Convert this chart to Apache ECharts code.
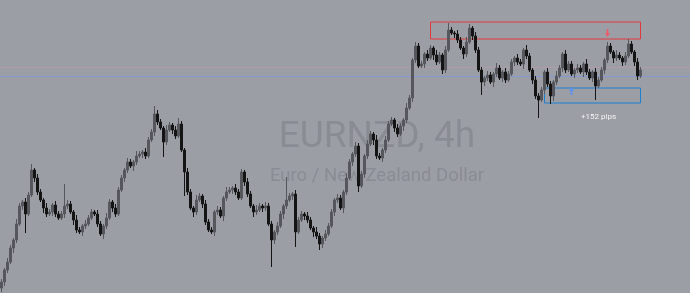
<!DOCTYPE html>
<html>
<head>
<meta charset="utf-8">
<script src="https://cdn.jsdelivr.net/npm/echarts@6/dist/echarts.min.js"></script>
<style>
html,body{margin:0;padding:0;background:#9c9ea6;}
#chart{width:690px;height:293px;}
</style>
</head>
<body>
<div id="chart"></div>
<script>
// EURNZD 4h candles, price levels in chart points
const opens = [
12,18,30,38,52,60,76,94,98,86,
105,130,122,108,100,92,86,88,95,86,
82,86,94,96,88,80,70,68,74,76,
82,88,86,76,66,74,82,98,92,86,
110,122,130,138,134,138,144,146,148,144,
160,168,186,178,172,158,170,175,170,164,
176,150,128,108,92,88,100,104,96,78,
70,68,88,90,84,102,108,110,112,108,
102,128,118,106,94,88,90,94,92,94,
76,60,68,74,86,94,100,104,106,68,
80,86,84,80,72,68,64,56,62,66,
74,88,100,102,92,108,122,138,146,154,
114,126,144,156,166,160,144,142,150,160,
176,180,172,166,174,180,192,202,240,254,
234,236,246,242,252,245,238,245,230,250,
270,267,266,260,252,246,258,272,264,250,
230,218,222,225,218,226,232,222,228,220,
226,238,242,238,236,250,244,230,220,204,
200,210,228,216,204,218,224,232,246,230,
236,226,230,232,228,236,228,222,228,214,
220,230,240,254,248,242,245,242,238,244,
256,248,238,224];
const closes = [
18,30,38,52,60,76,94,98,86,105,
130,122,108,100,92,86,88,95,86,82,
86,94,96,88,80,70,68,74,76,82,
88,86,76,66,74,82,98,92,86,110,
122,130,138,134,138,144,146,148,144,160,
168,186,178,172,158,170,175,170,164,176,
150,128,108,92,88,100,104,96,78,70,
68,88,90,84,102,108,110,112,108,102,
128,118,106,94,88,90,94,92,94,76,
60,68,74,86,94,100,104,106,68,80,
86,84,80,72,68,64,56,62,66,74,
88,100,102,92,108,122,138,146,154,114,
126,144,156,166,160,144,142,150,160,176,
180,172,166,174,180,192,202,240,254,234,
236,246,242,252,245,238,245,230,250,270,
267,266,260,252,246,258,272,264,250,230,
218,222,225,218,226,232,222,228,220,226,
238,242,238,236,250,244,230,220,204,200,
210,228,216,204,218,224,232,246,230,236,
226,230,232,228,236,228,222,228,214,220,
230,240,254,248,242,245,242,238,244,256,
248,238,224,230];
const highs = [
21,32,42,55,62,81,97,100,102,108,
136,132,126,111,102,97,91,97,99,89,
89,116,100,99,90,85,73,76,80,85,
91,90,90,79,76,87,101,100,96,113,
125,132,142,141,140,149,149,150,152,163,
171,194,190,181,174,175,178,177,174,182,
179,152,132,111,94,105,107,106,100,81,
73,90,94,93,104,113,113,114,116,111,
131,130,122,109,96,95,97,96,98,97,
79,70,78,89,96,123,107,108,110,83,
89,88,88,83,74,73,67,64,70,77,
91,102,106,105,110,127,141,148,158,157,
129,146,160,169,168,165,147,152,164,179,
183,182,176,177,182,197,205,242,258,257,
239,248,250,255,254,250,248,247,254,277,
273,269,270,263,254,263,276,274,268,253,
233,224,229,228,228,237,235,230,232,229,
241,244,246,241,252,255,247,232,224,207,
213,230,232,219,220,229,235,248,250,239,
239,232,236,235,238,241,231,230,232,223,
233,242,258,257,250,250,248,244,248,261,
259,250,242,233];
const lows = [
8,14,27,36,47,57,74,90,67,84,
103,118,105,98,87,83,84,84,83,80,
80,82,91,86,75,67,66,64,71,74,
80,84,73,64,61,71,80,88,83,84,
108,118,127,132,129,135,142,142,141,142,
158,164,175,170,143,155,168,166,161,162,
148,104,105,90,83,85,98,92,75,68,
66,64,85,82,79,99,106,106,105,100,
100,114,103,92,83,85,88,88,89,74,
33,56,65,72,81,91,98,100,53,66,
78,80,77,70,63,61,50,52,59,64,
72,84,97,90,87,105,120,134,143,108,
112,122,141,154,155,141,140,138,147,158,
174,168,163,164,169,177,190,198,237,232,
232,232,239,240,240,235,236,226,227,248,
265,262,257,250,241,243,256,260,247,228,
205,214,219,216,213,223,220,218,217,218,
224,234,235,234,231,241,228,216,201,182,
198,206,213,196,199,215,222,228,227,228,
224,222,227,226,223,225,220,218,200,212,
218,226,237,246,237,239,240,234,235,242,
246,234,220,222];
// horizontal levels
const priceLine = 224;
const prevLine = 233;
// zones [startIndex, endIndex, top, bottom]
const resistanceZone = [143, 213, 278, 261];
const supportZone = [181, 213, 212, 197];
const sellSignal = [202, 267];
const buySignal = [190, 209];
const pipsLabel = '+152 pips';
const pipsPos = [199, 183];
const titleText = 'EURNZD, 4h';
const subtitleText = 'Euro / New Zealand Dollar';
const totalSlots = 230; // candle slots incl. right margin

const categories = [];
for (let i = 0; i < totalSlots; i++) categories.push('c' + i);
const ohlc = opens.map((o, i) => [o, closes[i], lows[i], highs[i]]);

const arrowPath = 'path://M3,0 L6,4 L4,4 L4,8 L2,8 L2,4 L0,4 Z';

const chart = echarts.init(document.getElementById('chart'));
chart.setOption({
  animation: false,
  backgroundColor: '#9c9ea6',
  grid: {left: 0, right: 0, top: 0, bottom: 0},
  xAxis: {type: 'category', data: categories, boundaryGap: true, show: false},
  yAxis: {type: 'value', min: 7, max: 300, show: false, splitLine: {show: false}},
  graphic: [
    {type: 'text', x: 377, y: 138, z: 0, silent: true,
     style: {text: titleText, font: '37px Roboto', fill: '#8a8c94', textAlign: 'center', textVerticalAlign: 'middle'}},
    {type: 'text', x: 377, y: 176, z: 0, silent: true,
     style: {text: subtitleText, font: '18.5px Roboto', fill: '#8a8c94', textAlign: 'center', textVerticalAlign: 'middle'}}
  ],
  series: [{
    type: 'candlestick',
    data: ohlc,
    barWidth: 1.6,
    z: 5,
    itemStyle: {color: '#55575c', color0: '#141414', borderColor: '#55575c', borderColor0: '#141414', borderWidth: 1},
    markLine: {
      silent: true, symbol: 'none', label: {show: false},
      data: [
        {yAxis: prevLine, lineStyle: {color: '#b59aa6', width: 1, type: 'solid', opacity: 0.8}},
        {yAxis: priceLine, lineStyle: {color: '#8598d2', width: 1, type: 'solid', opacity: 1}}
      ]
    },
    markArea: {
      silent: true,
      data: [
        [{xAxis: resistanceZone[0], yAxis: resistanceZone[2], itemStyle: {color: 'rgba(0,0,0,0)', borderColor: '#e0383d', borderWidth: 1}},
         {xAxis: resistanceZone[1], yAxis: resistanceZone[3]}],
        [{xAxis: supportZone[0], yAxis: supportZone[2], itemStyle: {color: 'rgba(0,0,0,0)', borderColor: '#1c7fd0', borderWidth: 1}},
         {xAxis: supportZone[1], yAxis: supportZone[3]}]
      ]
    },
    markPoint: {
      silent: true,
      data: [
        {coord: sellSignal, symbol: arrowPath, symbolSize: [5, 8], symbolRotate: 180, itemStyle: {color: '#f05a68'}, label: {show: false}},
        {coord: buySignal, symbol: arrowPath, symbolSize: [5, 8], itemStyle: {color: '#5d92f0'}, label: {show: false}},
        {coord: pipsPos, symbol: 'circle', symbolSize: 0, itemStyle: {color: 'rgba(0,0,0,0)'},
         label: {show: true, formatter: pipsLabel, position: 'inside', color: '#f4f4f4', fontSize: 8, fontFamily: 'Roboto'}}
      ]
    }
  }]
});
</script>
</body>
</html>
